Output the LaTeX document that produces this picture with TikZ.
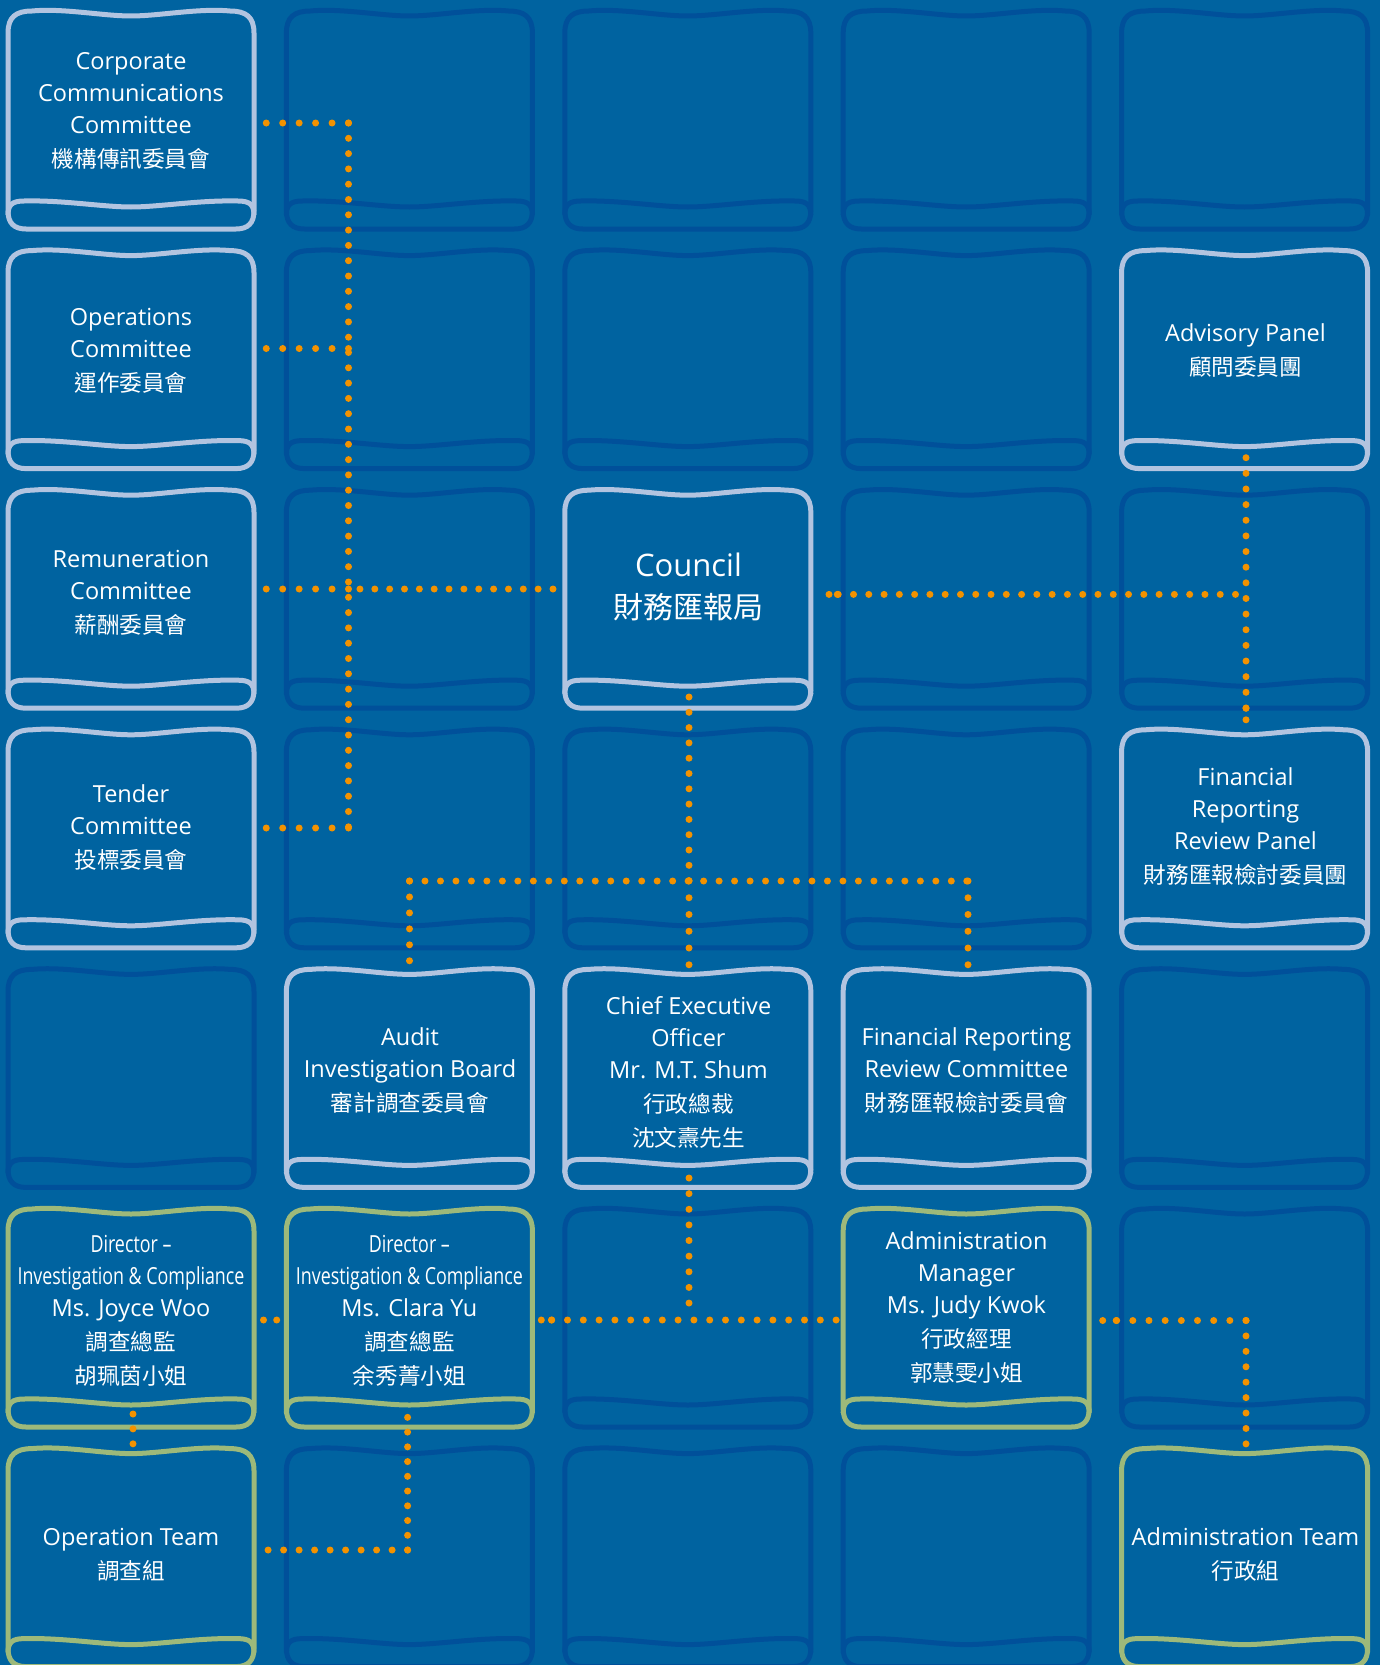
\documentclass[tikz,border=0pt]{standalone}
\usepackage{fontspec}
\setmainfont{Open Sans}
\newfontfamily\cjkfont{Noto Sans CJK TC}
\newfontfamily\condfont[FakeStretch=0.76]{Open Sans}
\definecolor{bg}{HTML}{0063A0}
\definecolor{cardempty}{HTML}{00509A}
\definecolor{cardlight}{HTML}{B2C4E0}
\definecolor{cardgreen}{HTML}{9DB97A}
\definecolor{dotorange}{HTML}{F39200}
\newcommand\zh[1]{{\fontsize{22.6}{32}\selectfont\cjkfont #1}}
\newcommand\cn[1]{{\condfont #1}}
\tikzset{
 pics/card/.style={code={
  \draw[line width=5pt,#1,line join=round]
   (0,202) -- (0,24) .. controls (0,8) and (8,2) .. (24,2)
   .. controls (55,-1) and (95,7) .. (123,7)
   .. controls (151,7) and (191,-1) .. (222,2)
   .. controls (238,2) and (246,8) .. (246,24)
   -- (246,202) .. controls (246,214) and (240,220) .. (228,220)
   -- (18,220) .. controls (6,220) and (0,214) .. (0,202) -- cycle;
  \draw[line width=5pt,#1]
   (0,206) .. controls (0,196) and (4,192) .. (16,192)
   .. controls (55,191) and (95,198) .. (123,198)
   .. controls (151,198) and (191,191) .. (230,192)
   .. controls (242,192) and (246,196) .. (246,206);
 }},
 lbl/.style={text=white, align=center, inner sep=0pt, font=\fontsize{23.5}{32}\selectfont},
 dots/.style={dotorange, line width=7pt, line cap=round, dash pattern=on 0pt off #1},
 dots/.default=15.5pt,
}
\begin{document}
\begin{tikzpicture}[x=1pt,y=-1pt]
\useasboundingbox (0,0) rectangle (1380,1665);
\clip (0,0) rectangle (1380,1665);
\fill[bg] (0,0) rectangle (1380,1665);
% cards
\foreach \c/\r in {1/0,2/0,3/0,4/0,1/1,2/1,3/1,1/2,3/2,4/2,1/3,2/3,3/3,0/4,4/4,2/5,4/5,1/6,2/6,3/6}
  \pic at ({8+278.4*\c},{9+239.6*\r}) {card=cardempty};
\foreach \c/\r in {0/0,0/1,0/2,0/3,4/1,2/2,4/3,1/4,2/4,3/4}
  \pic at ({8+278.4*\c},{9+239.6*\r}) {card=cardlight};
\foreach \c/\r in {0/5,1/5,3/5,0/6,4/6}
  \pic at ({8+278.4*\c},{9+239.6*\r}) {card=cardgreen};
% labels
\node[lbl] (corp) at (131,111) {Corporate\\Communications\\Committee\\[2pt]\zh{機構傳訊委員會}};
\node[lbl] (ops) at (131,350.7) {Operations\\Committee\\[2pt]\zh{運作委員會}};
\node[lbl] (rem) at (131,592.8) {Remuneration\\Committee\\[2pt]\zh{薪酬委員會}};
\node[lbl] (tender) at (131,827.9) {Tender\\Committee\\[2pt]\zh{投標委員會}};
\node[lbl] (adv) at (1245.5,350.5) {Advisory Panel\\[2pt]\zh{顧問委員團}};
\node[lbl, font=\fontsize{31}{42}\selectfont] (council) at (688.5,587) {Council\\{\fontsize{30}{42}\selectfont\cjkfont 財務匯報局}};
\node[lbl] (frrp) at (1245.5,826.5) {Financial\\Reporting\\Review Panel\\[2pt]\zh{財務匯報檢討委員團}};
\node[lbl] (aib) at (410,1070.5) {Audit\\Investigation Board\\[2pt]\zh{審計調查委員會}};
\node[lbl] (ceo) at (688.5,1072.7) {Chief Executive\\Officer\\Mr. M.T. Shum\\[2pt]\zh{行政總裁}\\[2pt]\zh{沈文燾先生}};
\node[lbl] (frrc) at (966.5,1070.5) {Financial Reporting\\Review Committee\\[2pt]\zh{財務匯報檢討委員會}};
\node[lbl] (woo) at (131,1311) {\cn{Director –}\\\cn{Investigation \& Compliance}\\Ms. Joyce Woo\\[2pt]\zh{調查總監}\\[2pt]\zh{胡珮茵小姐}};
\node[lbl] (yu) at (409.4,1311) {\cn{Director –}\\\cn{Investigation \& Compliance}\\Ms. Clara Yu\\[2pt]\zh{調查總監}\\[2pt]\zh{余秀菁小姐}};
\node[lbl] (adm) at (966.5,1307.8) {Administration\\Manager\\Ms. Judy Kwok\\[2pt]\zh{行政經理}\\[2pt]\zh{郭慧雯小姐}};
\node[lbl] (opteam) at (131,1554.5) {Operation Team\\[2pt]\zh{調查組}};
\node[lbl] (admteam) at (1245.5,1554.5) {Administration Team\\[2pt]\zh{行政組}};
% connector points
\coordinate (corpE) at (266,123);
\coordinate (opsE) at (266,348.5);
\coordinate (remE) at (266,589);
\coordinate (tenE) at (266,828);
\coordinate (trT) at (348.5,123);
\coordinate (trO) at (348.5,348.5);
\coordinate (trR) at (348.5,589);
\coordinate (trB) at (348.5,828);
\coordinate (counW) at (553,589);
\coordinate (counE) at (829,594.4);
\coordinate (counE2) at (837.5,594.4);
\coordinate (rJ) at (1235.5,594.4);
\coordinate (advS) at (1246,457.7);
\coordinate (frrpA) at (1246,708.3);
\coordinate (frrpN) at (1246,720);
\coordinate (counS) at (689,697);
\coordinate (ceoN) at (689,965);
\coordinate (hJ) at (689,881);
\coordinate (hL) at (409.5,881);
\coordinate (hR) at (968,881);
\coordinate (aibN) at (409.5,961);
\coordinate (frrcN) at (968,965);
\coordinate (ceoS) at (689,1178);
\coordinate (ceoJ) at (689,1303.3);
\coordinate (yuE) at (541.3,1320);
\coordinate (yuE2) at (551.7,1320);
\coordinate (admW) at (836.7,1320);
\coordinate (wooE) at (263.5,1320);
\coordinate (yuW) at (277,1320);
\coordinate (admE) at (1102.7,1320.5);
\coordinate (admE2) at (1116.4,1320.5);
\coordinate (admJ) at (1246,1320.5);
\coordinate (admTN) at (1246,1444.3);
\coordinate (wooS) at (133,1414);
\coordinate (opN) at (133,1444);
\coordinate (yuS) at (407.6,1417);
\coordinate (yuJ) at (407.6,1550);
\coordinate (opE) at (267.5,1550);
% dotted connectors
\draw[dots=16.45pt] (trT) -- (corpE);
\draw[dots=15.3pt] (trT) -- (trB);
\draw[dots=16.45pt] (trB) -- (tenE);
\draw[dots=16.45pt] (trO) -- (opsE);
\draw[dots=16.45pt] (trR) -- (remE);
\draw[dots=14.85pt] (counW) -- (trR);
\draw[dots=8.3pt] (counE) -- (counE2);
\draw[dots=15.28pt] (rJ) -- (counE2);
\draw[dots=15.64pt] (advS) -- (frrpA);
\draw[dots=11.5pt] (frrpA) -- (frrpN);
\draw[dots=15.3pt] (counS) -- (hJ);
\draw[dots=16.75pt] (hJ) -- (ceoN);
\draw[dots=15.48pt] (hL) -- (hR);
\draw[dots=15.95pt] (hL) -- (aibN);
\draw[dots=16.75pt] (hR) -- (frrcN);
\draw[dots=15.63pt] (ceoS) -- (ceoJ);
\draw[dots=10.2pt] (yuE) -- (yuE2);
\draw[dots=15.8pt] (yuE2) -- (admW);
\draw[dots=13.2pt] (wooE) -- (yuW);
\draw[dots=13.5pt] (admE) -- (admE2);
\draw[dots=16.17pt] (admJ) -- (admE2);
\draw[dots=15.42pt] (admJ) -- (admTN);
\draw[dots=14.9pt] (wooS) -- (opN);
\draw[dots=14.74pt] (yuJ) -- (yuS);
\draw[dots=15.5pt] (yuJ) -- (opE);
\end{tikzpicture}
\end{document}
